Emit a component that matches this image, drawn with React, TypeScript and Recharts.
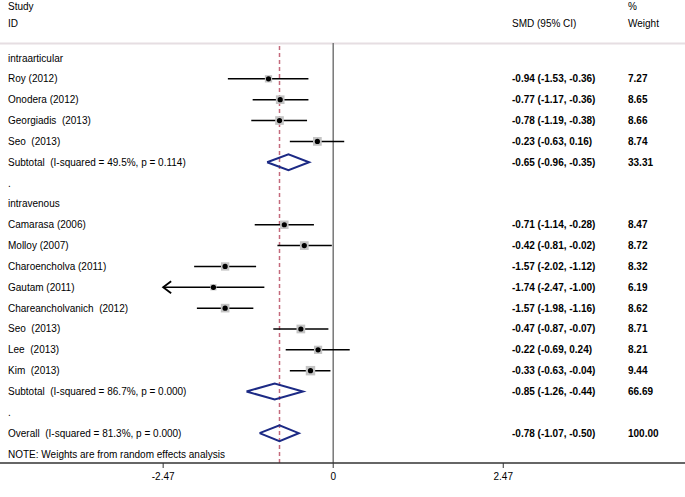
import { ScatterChart, Scatter, XAxis, YAxis, ErrorBar, ReferenceLine, Customized } from 'recharts'

const FONT = '"Liberation Sans", Arial, sans-serif'
const AXIS_MIN = -2.47

const rowLabels = [
  'intraarticular',
  'Roy (2012)',
  'Onodera (2012)',
  'Georgiadis  (2013)',
  'Seo  (2013)',
  'Subtotal  (I-squared = 49.5%, p = 0.114)',
  '.',
  'intravenous',
  'Camarasa (2006)',
  'Molloy (2007)',
  'Charoencholva (2011)',
  'Gautam (2011)',
  'Chareancholvanich  (2012)',
  'Seo  (2013)',
  'Lee  (2013)',
  'Kim  (2013)',
  'Subtotal  (I-squared = 86.7%, p = 0.000)',
  '.',
  'Overall  (I-squared = 81.3%, p = 0.000)',
  'NOTE: Weights are from random effects analysis',
]

const rowKinds = [
  'label', 'study', 'study', 'study', 'study', 'pooled', 'label',
  'label', 'study', 'study', 'study', 'study', 'study', 'study', 'study', 'study', 'pooled', 'label',
  'pooled', 'label',
]

const smd = [null, -0.94, -0.77, -0.78, -0.23, -0.65, null, null, -0.71, -0.42, -1.57, -1.74, -1.57, -0.47, -0.22, -0.33, -0.85, null, -0.78, null]
const ciLow = [null, -1.53, -1.17, -1.19, -0.63, -0.96, null, null, -1.14, -0.81, -2.02, -2.47, -1.98, -0.87, -0.69, -0.63, -1.26, null, -1.07, null]
const ciHigh = [null, -0.36, -0.36, -0.38, 0.16, -0.35, null, null, -0.28, -0.02, -1.12, -1.0, -1.16, -0.07, 0.24, -0.04, -0.44, null, -0.5, null]
const weights = [null, 7.27, 8.65, 8.66, 8.74, 33.31, null, null, 8.47, 8.72, 8.32, 6.19, 8.62, 8.71, 8.21, 9.44, 66.69, null, 100.0, null]

const xTicks = [-2.47, 0, 2.47]

const fmt = (v: number) => v.toFixed(2)

const labelRows = rowLabels.map((label, i) => ({
  x: 0,
  y: i + 1,
  label,
  est: smd[i] == null ? '' : `${fmt(smd[i] as number)} (${fmt(ciLow[i] as number)}, ${fmt(ciHigh[i] as number)})`,
  wt: weights[i] == null ? '' : fmt(weights[i] as number),
}))

const studyRows = rowKinds
  .map((k, i) => ({ k, i }))
  .filter((r) => r.k === 'study')
  .map(({ i }) => {
    const lo = Math.max(ciLow[i] as number, AXIS_MIN)
    return { x: smd[i] as number, y: i + 1, w: weights[i] as number, err: [(smd[i] as number) - lo, (ciHigh[i] as number) - (smd[i] as number)] }
  })

// CIs running past the axis limit get an arrow head instead
const arrowRows = rowKinds
  .map((k, i) => ({ k, i }))
  .filter((r) => r.k === 'study' && (ciLow[r.i] as number) <= AXIS_MIN)
  .map(({ i }) => ({ x: AXIS_MIN, y: i + 1 }))

const DH = 0.38
const diamonds = rowKinds
  .map((k, i) => ({ k, i }))
  .filter((r) => r.k === 'pooled')
  .map(({ i }) => {
    const y = i + 1
    const e = smd[i] as number
    return [
      { x: ciLow[i] as number, y },
      { x: e, y: y - DH },
      { x: ciHigh[i] as number, y },
      { x: e, y: y + DH },
      { x: ciLow[i] as number, y },
    ]
  })

const overall = smd[18] as number

// eslint-disable-next-line @typescript-eslint/no-explicit-any
const RowText = (p: any) => {
  const { cy, payload } = p
  return (
    <g fontFamily={FONT} fontSize={10} fill="#000">
      <text x={8} y={cy} dominantBaseline="central" style={{ whiteSpace: 'pre' }}>{payload.label}</text>
      <text x={512} y={cy} dominantBaseline="central" fontWeight="bold">{payload.est}</text>
      <text x={628} y={cy} dominantBaseline="central" fontWeight="bold">{payload.wt}</text>
    </g>
  )
}

// eslint-disable-next-line @typescript-eslint/no-explicit-any
const StudyMark = (p: any) => {
  const { cx, cy, payload } = p
  const s = payload.w * 1.0
  return (
    <g>
      <rect x={cx - s / 2} y={cy - s / 2} width={s} height={s} fill="#c4c4c4" />
      <circle cx={cx} cy={cy} r={2.6} fill="#000" />
    </g>
  )
}

// eslint-disable-next-line @typescript-eslint/no-explicit-any
const Arrow = (p: any) => {
  const { cx, cy } = p
  return <path d={`M${cx + 8},${cy - 6} L${cx},${cy} L${cx + 8},${cy + 6}`} fill="none" stroke="#000" strokeWidth={1.8} />
}

const Headers = () => (
  <g fontFamily={FONT} fontSize={10} fill="#000">
    <text x={8} y={6} dominantBaseline="central">Study</text>
    <text x={8} y={23} dominantBaseline="central">ID</text>
    <text x={512} y={23} dominantBaseline="central">SMD (95% CI)</text>
    <text x={628} y={6} dominantBaseline="central">%</text>
    <text x={628} y={23} dominantBaseline="central">Weight</text>
  </g>
)

export default function App() {
  return (
    <div style={{ position: 'absolute', left: 0, top: 0 }}>
      <ScatterChart width={685} height={497} margin={{ top: 43, right: 0, bottom: 0, left: 0 }}>
        <XAxis
          type="number"
          dataKey="x"
          domain={[-4.84, 5.11]}
          ticks={xTicks}
          allowDataOverflow
          height={34}
          axisLine={{ stroke: '#333', strokeWidth: 1.5 }}
          tickLine={{ stroke: '#333' }}
          tickSize={5}
          tick={{ fill: '#000', fontSize: 10, fontFamily: FONT, dy: 3 }}
        />
        <YAxis type="number" dataKey="y" domain={[0.28, 20.43]} reversed hide allowDataOverflow />
        <ReferenceLine y={0.3} stroke="#e6dee2" strokeWidth={2} ifOverflow="visible" />
        <ReferenceLine x={0} stroke="#777" strokeWidth={1.5} ifOverflow="visible" />
        <ReferenceLine x={overall} stroke="#c46a7c" strokeWidth={1.5} strokeDasharray="4 3" ifOverflow="visible" />
        <Scatter data={labelRows} shape={RowText} isAnimationActive={false} />
        <Scatter data={studyRows} shape={StudyMark} isAnimationActive={false}>
          <ErrorBar dataKey="err" direction="x" width={0} stroke="#000" strokeWidth={1.5} isAnimationActive={false} />
        </Scatter>
        <Scatter data={arrowRows} shape={Arrow} isAnimationActive={false} />
        {diamonds.map((d, i) => (
          <Scatter key={i} data={d} line={{ stroke: '#1c2a85', strokeWidth: 2 }} shape={() => <g />} isAnimationActive={false} />
        ))}
        <Customized component={Headers} />
      </ScatterChart>
    </div>
  )
}
